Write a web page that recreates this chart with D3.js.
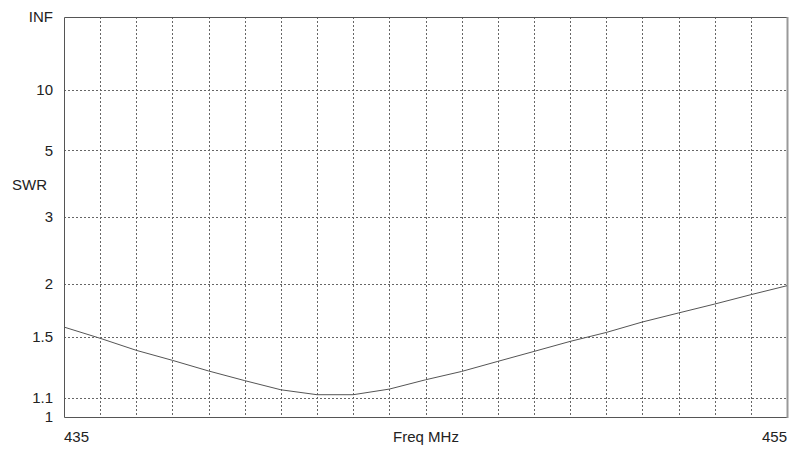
<!DOCTYPE html>
<html>
<head>
<meta charset="utf-8">
<script src="https://cdn.jsdelivr.net/npm/d3@7"></script>
<style>
  body { margin: 0; background: #fff; }
  text { font-family: "Liberation Sans", Arial, sans-serif; font-size: 15px; fill: #222; }
</style>
</head>
<body>
<script>
// chart size, same as the window
var width = 804,
    height = 450;

// frequency steps in MHz and the SWR read at each one
var freqs = [435, 436, 437, 438, 439, 440, 441, 442, 443, 444, 445,
             446, 447, 448, 449, 450, 451, 452, 453, 454, 455];
var swr = [1.58, 1.49, 1.40, 1.33, 1.26, 1.20, 1.146, 1.118, 1.118, 1.15, 1.205,
           1.257, 1.323, 1.392, 1.466, 1.536, 1.623, 1.703, 1.787, 1.881, 1.977];

// swr tick marks on the left, INF is the top of the plot
var swrTicks = [1, 1.1, 1.5, 2, 3, 5, 10, Infinity];
var swrLabels = ["1", "1.1", "1.5", "2", "3", "5", "10", "INF"];

// plot box (note: "top" is taken by window.top, so use plot* names)
var plotLeft = 64, plotRight = 787, plotTop = 17, plotBottom = 417;

// swr goes on a reflection coefficient scale: (s-1)/(s+1), INF -> 1
function gamma(s) {
    return s === Infinity ? 1 : (s - 1) / (s + 1);
}

var x = d3.scaleLinear().domain([435, 455]).range([plotLeft, plotRight]);
var g = d3.scaleLinear().domain([0, 1]).range([plotBottom, plotTop]);
var y = function(s) { return g(gamma(s)); };

var svg = d3.select("body")
    .append("svg")
    .attr("width", width)
    .attr("height", height);

// dotted grid, vertical every MHz
svg.append("g")
    .selectAll("line")
    .data(d3.range(436, 455))
    .enter().append("line")
    .attr("x1", function(d) { return Math.round(x(d)) + 0.5; })
    .attr("x2", function(d) { return Math.round(x(d)) + 0.5; })
    .attr("y1", plotTop)
    .attr("y2", plotBottom)
    .attr("stroke", "#666")
    .attr("stroke-dasharray", "2,2");

// horizontal grid at the inner swr ticks
svg.append("g")
    .selectAll("line")
    .data(swrTicks.slice(1, -1))
    .enter().append("line")
    .attr("x1", plotLeft)
    .attr("x2", plotRight)
    .attr("y1", function(d) { return Math.round(y(d)) + 0.5; })
    .attr("y2", function(d) { return Math.round(y(d)) + 0.5; })
    .attr("stroke", "#666")
    .attr("stroke-dasharray", "2,2");

// frame: left, top, bottom dark, right side lighter
svg.append("path")
    .attr("d", "M" + plotRight + "," + (plotTop + 0.5) + "H" + (plotLeft + 0.5) +
               "V" + (plotBottom + 0.5) + "H" + plotRight)
    .attr("fill", "none")
    .attr("stroke", "#555");
svg.append("line")
    .attr("x1", plotRight + 0.5).attr("x2", plotRight + 0.5)
    .attr("y1", plotTop).attr("y2", plotBottom + 1)
    .attr("stroke", "#999")
    .attr("stroke-width", 2);

// the swr curve
var line = d3.line()
    .x(function(d, i) { return x(freqs[i]); })
    .y(function(d) { return y(d); });

svg.append("path")
    .datum(swr)
    .attr("d", line)
    .attr("fill", "none")
    .attr("stroke", "#555")
    .attr("stroke-width", 1);

// swr labels
svg.append("g")
    .selectAll("text")
    .data(swrTicks)
    .enter().append("text")
    .attr("x", 53)
    .attr("y", function(d) { return y(d); })
    .attr("dy", "0.36em")
    .attr("text-anchor", "end")
    .text(function(d, i) { return swrLabels[i]; });

svg.append("text")
    .attr("x", 12)
    .attr("y", 185)
    .attr("dy", "0.36em")
    .text("SWR");

// frequency labels under the plot
svg.append("text")
    .attr("x", plotLeft)
    .attr("y", 437)
    .attr("dy", "0.36em")
    .text("435");

svg.append("text")
    .attr("x", plotRight)
    .attr("y", 437)
    .attr("dy", "0.36em")
    .attr("text-anchor", "end")
    .text("455");

svg.append("text")
    .attr("x", 426)
    .attr("y", 437)
    .attr("dy", "0.36em")
    .attr("text-anchor", "middle")
    .text("Freq MHz");
</script>
</body>
</html>
